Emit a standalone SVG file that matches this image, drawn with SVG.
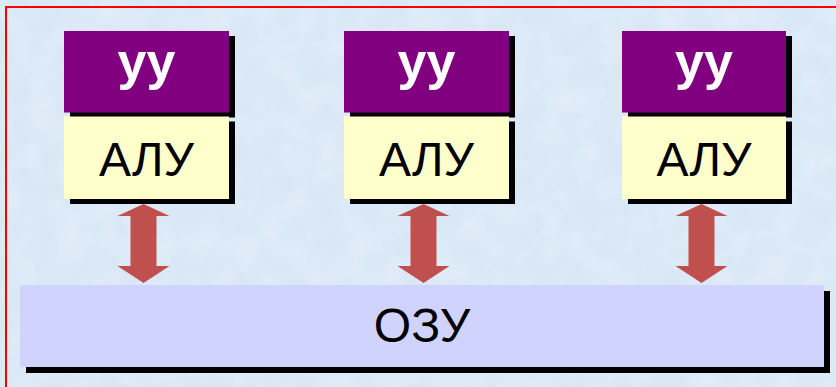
<svg xmlns="http://www.w3.org/2000/svg" width="836" height="387" viewBox="0 0 836 387">
  <defs>
    <filter id="mottle" x="0" y="0" width="100%" height="100%">
      <feTurbulence type="fractalNoise" baseFrequency="0.035" numOctaves="3" seed="7" result="n"/>
      <feColorMatrix in="n" type="matrix" values="0 0 0 0 0.78  0 0 0 0 0.87  0 0 0 0 0.95  0 0 0 -1.4 0.85" result="c"/>
      <feComposite in="c" in2="SourceGraphic" operator="in"/>
    </filter>
    <path id="dblArrow" d="M0,0 L26,12 L13,12 L13,62 L26,62 L0,79 L-26,62 L-13,62 L-13,12 L-26,12 Z"/>
  </defs>
  <style>
    .shadow { fill: #000000; }
    .cu { fill: #800080; }
    .alu { fill: #ffffcc; }
    .ram { fill: #d1d3ff; }
    .arrow { fill: #c0504d; }
    .t { font-family: "Liberation Sans", Arial, sans-serif; font-size: 48px; text-anchor: middle; fill: #000000; }
    .tb { font-family: "Liberation Sans", Arial, sans-serif; font-size: 52px; font-weight: bold; text-anchor: middle; fill: #ffffff; }
  </style>

  <!-- page background -->
  <rect x="0" y="0" width="836" height="387" fill="#dae8f6"/>
  <rect x="0" y="0" width="836" height="387" fill="#dae8f6" filter="url(#mottle)"/>
  <rect x="6" y="7" width="850" height="400" fill="none" stroke="#ff0000" stroke-width="2"/>

  <!-- connectors -->
  <g id="connectors">
    <use href="#dblArrow" class="arrow" x="143.5" y="204"/>
    <use href="#dblArrow" class="arrow" x="423.5" y="204"/>
    <use href="#dblArrow" class="arrow" x="701.5" y="204"/>
  </g>

  <!-- processor 1 -->
  <g id="cu1">
    <rect class="shadow" x="70" y="36" width="165" height="81.5"/>
    <rect class="cu" x="64" y="31" width="165" height="81.5"/>
    <text class="tb" x="146.5" y="79">уу</text>
  </g>
  <g id="alu1">
    <rect class="shadow" x="70" y="121.5" width="165" height="82.5"/>
    <rect class="alu" x="64" y="116.5" width="165" height="82.5"/>
    <text class="t" x="146.5" y="175.5">АЛУ</text>
  </g>

  <!-- processor 2 -->
  <g id="cu2">
    <rect class="shadow" x="350" y="36" width="165" height="81.5"/>
    <rect class="cu" x="344" y="31" width="165" height="81.5"/>
    <text class="tb" x="426.5" y="79">уу</text>
  </g>
  <g id="alu2">
    <rect class="shadow" x="350" y="121.5" width="165" height="82.5"/>
    <rect class="alu" x="344" y="116.5" width="165" height="82.5"/>
    <text class="t" x="426.5" y="175.5">АЛУ</text>
  </g>

  <!-- processor 3 -->
  <g id="cu3">
    <rect class="shadow" x="628" y="36" width="164" height="81.5"/>
    <rect class="cu" x="622" y="31" width="164" height="81.5"/>
    <text class="tb" x="704" y="79">уу</text>
  </g>
  <g id="alu3">
    <rect class="shadow" x="628" y="121.5" width="164" height="82.5"/>
    <rect class="alu" x="622" y="116.5" width="164" height="82.5"/>
    <text class="t" x="704" y="175.5">АЛУ</text>
  </g>

  <!-- shared memory -->
  <g id="ram">
    <rect class="shadow" x="26" y="291" width="804" height="82"/>
    <rect class="ram" x="20" y="285" width="804" height="82"/>
    <text class="t" x="422" y="342">ОЗУ</text>
  </g>
</svg>
